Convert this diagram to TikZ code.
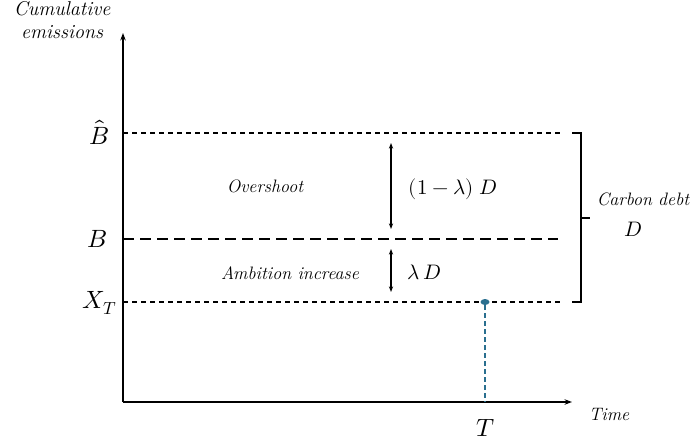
\documentclass[tikz,border=0pt]{standalone}
\usepackage{amsmath}
\usepackage{unicode-math}
\usepackage{tikz}
\usetikzlibrary{arrows.meta, positioning, calc, shapes.geometric}
\definecolor{cdTrace}{HTML}{2A6F8F}
\tikzset{
  cdaxis/.style={-{Stealth[length=2.6mm,width=1.9mm]}, line width=1.3pt, black},
  cdlevel/.style={line width=1.2pt, dash pattern=on 5pt off 4pt},
  cdlong/.style={line width=1.2pt, dash pattern=on 11pt off 6pt},
  cdgap/.style={{Stealth[length=2mm,width=1.5mm]}-{Stealth[length=2mm,width=1.5mm]}, line width=1.1pt},
  cdbrace/.style={line width=1.2pt},
  cdtrace/.style={cdTrace, line width=1.3pt, dash pattern=on 5pt off 3pt},
  cddot/.style={ellipse, fill=cdTrace, minimum width=9pt, minimum height=6pt, inner sep=0pt},
  cdtext/.style={font=\fontsize{18}{23}\selectfont\itshape, align=center, inner sep=0pt},
  cdlab/.style={font=\fontsize{25}{28}\selectfont, inner sep=0pt},
  cdgaplab/.style={font=\fontsize{21}{24}\selectfont, inner sep=0pt}
}

\begin{document}
\begin{tikzpicture}[x=1pt, y=-1pt]
  \useasboundingbox (0,0) rectangle (692,443);
  % axes
  \coordinate (origin) at (123,402);
  \coordinate (ytop) at (123,33);
  \coordinate (xend) at (572,402);
  \draw[cdaxis] (origin) -- (ytop);
  \draw[cdaxis] (origin) -- (xend);
  \node[cdtext, font=\fontsize{20}{23}\selectfont\itshape] (ylab) at (62,20) {Cumulative\\emissions};
  \node[cdtext] (xlab) at (609,414) {Time};

  % levels
  \coordinate (bhatL) at (123,133); \coordinate (bhatR) at (560,133);
  \coordinate (bL) at (123,239);    \coordinate (bR) at (558,239);
  \coordinate (xtL) at (123,302);   \coordinate (xtR) at (560,302);
  \draw[cdlevel] (bhatL) -- (bhatR);
  \draw[cdlong] (bL) -- (bR);
  \draw[cdlevel] (xtL) -- (xtR);
  \node[cdlab] (bhat) at (99,132) {$\hat{B}$};
  \node[cdlab] (b) at (97,239) {$B$};
  \node[cdlab] (xt) at (100,303) {$X_T$};

  % point reached at T
  \node[cddot] (reach) at (485,302) {};
  \draw[cdtrace] (reach) -- (reach |- origin);
  \node[cdlab] (tlab) at (486,428) {$T$};

  % gaps
  \coordinate (g1top) at (391,143); \coordinate (g1bot) at (391,229);
  \coordinate (g2top) at (391,249); \coordinate (g2bot) at (391,292);
  \draw[cdgap] (g1top) -- (g1bot);
  \draw[cdgap] (g2top) -- (g2bot);
  \node[cdgaplab] (g1lab) at (453,189) {$(1-\lambda)\;D$};
  \node[cdgaplab] (g2lab) at (424,272) {$\lambda\,D$};
  \node[cdtext] (over) at (265,186) {Overshoot};
  \node[cdtext] (ambit) at (290,273) {Ambition increase};

  % carbon debt bracket
  \coordinate (brTop) at (572,133); \coordinate (brBot) at (572,302);
  \coordinate (brMid) at (581,218); \coordinate (brTip) at (590,218);
  \draw[cdbrace] (brTop) -- (brTop -| brMid) -- (brBot -| brMid) -- (brBot);
  \draw[cdbrace] (brMid) -- (brTip);
  \node[cdtext] (debt) at (643,199) {Carbon debt};
  \node[cdgaplab] (dlab) at (633,229) {$D$};
\end{tikzpicture}
\end{document}
